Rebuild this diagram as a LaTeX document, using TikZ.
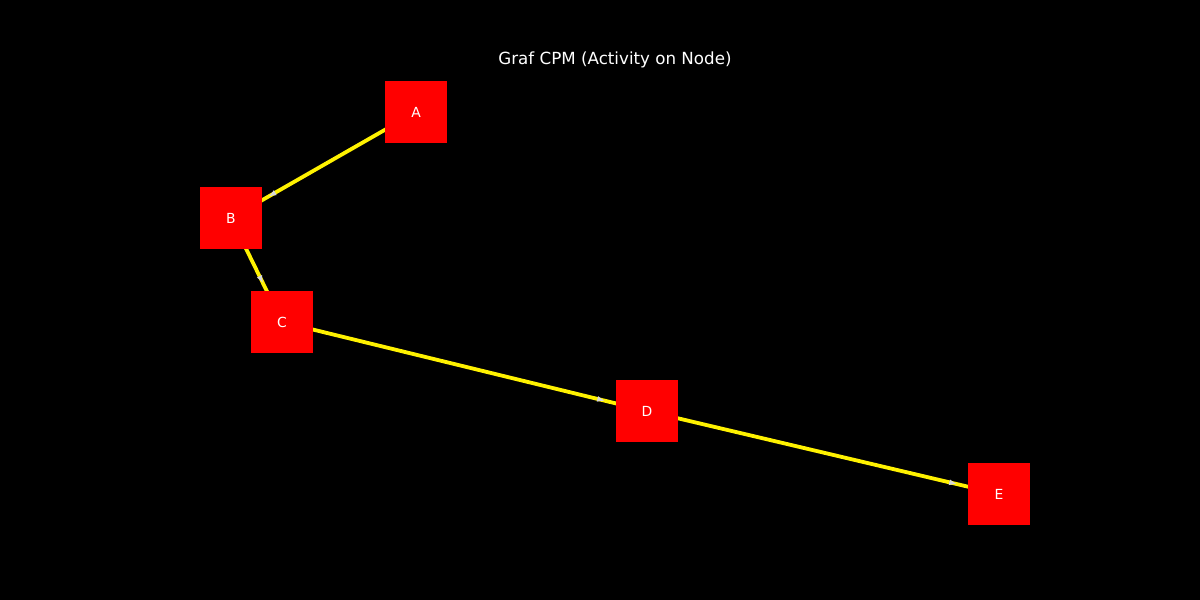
\documentclass[tikz,border=0pt]{standalone}
\usepackage{fontspec}
\setmainfont{DejaVu Sans}
\usetikzlibrary{arrows.meta,decorations.markings}
\pgfdeclarelayer{background}
\pgfdeclarelayer{edges}
\pgfsetlayers{background,edges,main}
\tikzset{
    activity/.style={fill=red, minimum size=62pt, inner sep=0pt, text=white,
        font=\fontsize{13.9}{16}\selectfont},
    link/.style={draw=yellow, line width=3.8pt, postaction={decorate},
        decoration={markings, mark=at position -43pt with
            {\arrow[white!85!black]{Latex[length=8pt,width=6pt]}}}}
}

\begin{document}
\begin{tikzpicture}[x=1pt, y=-1pt]
    \begin{pgfonlayer}{background}
        \fill[black] (0, 0) rectangle (1200, 600);
    \end{pgfonlayer}
    \useasboundingbox (0, 0) rectangle (1200, 600);
    \node[text=white, font=\fontsize{16.7}{20}\selectfont] (title) at (615, 59.5) {Graf CPM (Activity on Node)};
    \node[activity] (A) at (416, 112) {A};
    \node[activity] (B) at (231, 218) {B};
    \node[activity] (C) at (282, 322) {C};
    \node[activity] (D) at (647, 411) {D};
    \node[activity] (E) at (999, 494) {E};
    \begin{pgfonlayer}{edges}
        \draw[link] (A.center) -- (B.center);
        \draw[link] (B.center) -- (C.center);
        \draw[link] (C.center) -- (D.center);
        \draw[link] (D.center) -- (E.center);
    \end{pgfonlayer}
\end{tikzpicture}
\end{document}
